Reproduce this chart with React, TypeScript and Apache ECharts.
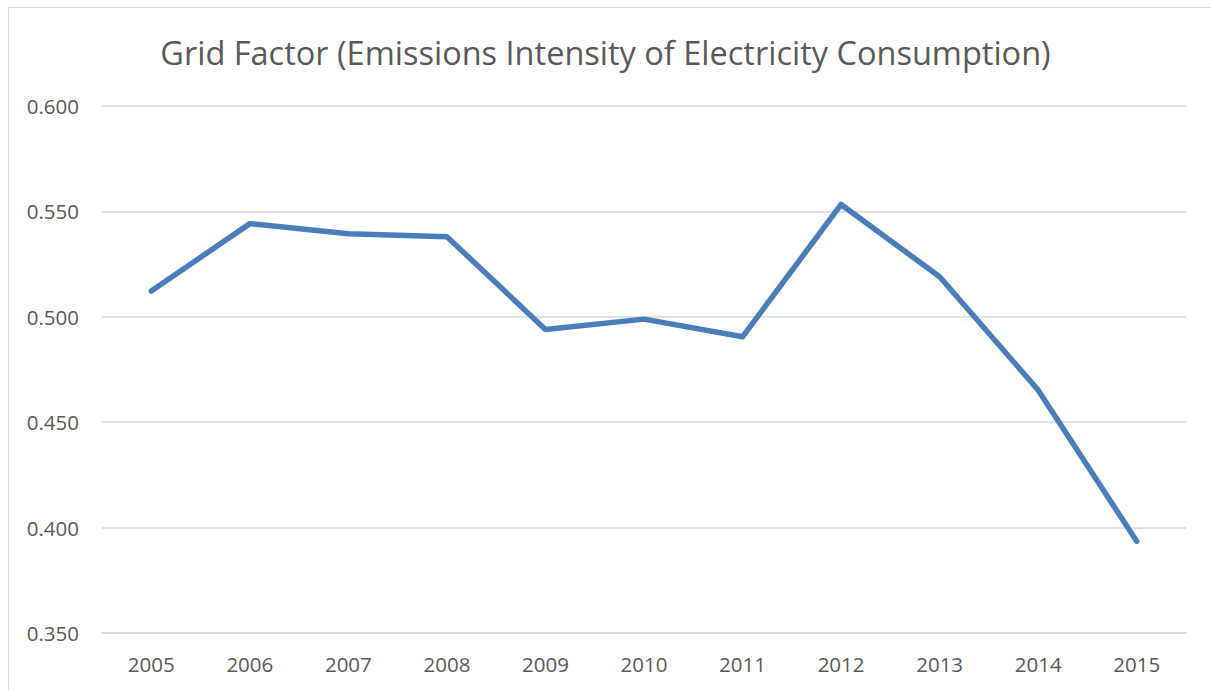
import React, { useEffect, useRef } from "react";
import * as echarts from "echarts";

const title = "Grid Factor (Emissions Intensity of Electricity Consumption)";
const years = ["2005", "2006", "2007", "2008", "2009", "2010", "2011", "2012", "2013", "2014", "2015"];
const gridFactor = [0.5122, 0.5442, 0.5394, 0.538, 0.494, 0.4989, 0.4905, 0.5533, 0.519, 0.4652, 0.3935];
const yMin = 0.35;
const yMax = 0.6;
const yStep = 0.05;

export default function App() {
  const ref = useRef<HTMLDivElement>(null);
  useEffect(() => {
    document.body.style.margin = "0";
    const chart = echarts.init(ref.current!, null, { renderer: "svg" });
    const font = "'Open Sans', 'Noto Sans', sans-serif";
    chart.setOption({
      animation: false,
      backgroundColor: "#ffffff",
      title: {
        text: title,
        left: "center",
        top: 31,
        textStyle: { fontFamily: font, fontSize: 32.5, fontWeight: "normal", color: "#595959" },
      },
      graphic: [
        {
          type: "rect",
          shape: { x: 8.5, y: 7.5, width: 1300, height: 800 },
          style: { fill: "none", stroke: "#d9d9d9", lineWidth: 1 },
          silent: true,
        },
      ],
      grid: { left: 102, right: 25, top: 106, bottom: 58 },
      xAxis: {
        type: "category",
        data: years,
        boundaryGap: true,
        axisLine: { show: true, lineStyle: { color: "#d9d9d9", width: 1.5 } },
        axisTick: { show: false },
        axisLabel: { color: "#595959", fontFamily: font, fontSize: 20.5, margin: 20 },
      },
      yAxis: {
        type: "value",
        min: yMin,
        max: yMax,
        interval: yStep,
        axisLine: { show: false },
        axisTick: { show: false },
        splitLine: { lineStyle: { color: "#d9d9d9", width: 1.5 } },
        axisLabel: {
          color: "#595959",
          fontFamily: font,
          fontSize: 20.5,
          margin: 23,
          formatter: (v: number) => v.toFixed(3),
        },
      },
      series: [
        {
          type: "line",
          data: gridFactor,
          symbol: "none",
          lineStyle: { color: "#4a7ebb", width: 5.5, cap: "round", join: "round" },
        },
      ],
    });
    return () => chart.dispose();
  }, []);
  return <div ref={ref} style={{ width: 1211, height: 691 }} />;
}
